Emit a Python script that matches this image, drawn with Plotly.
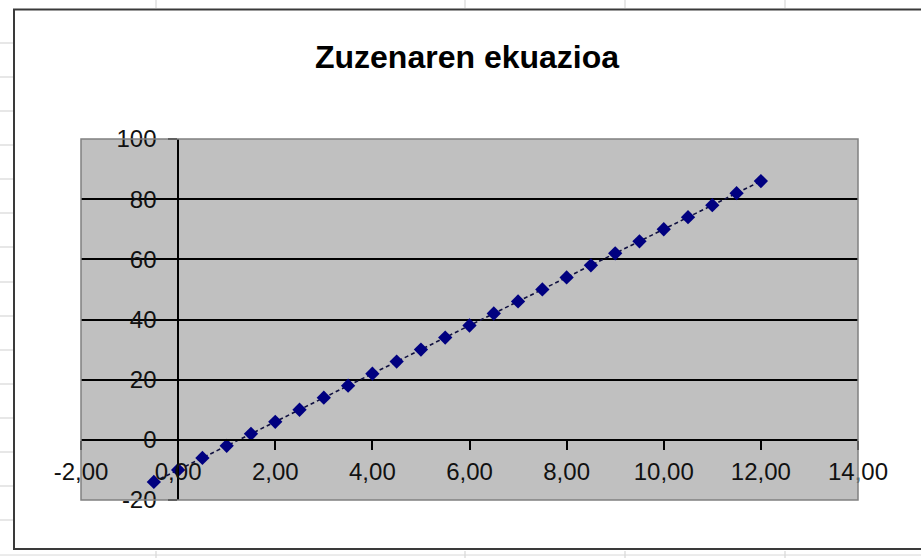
import plotly.graph_objects as go

# Data
x_values = [-0.5, 0.0, 0.5, 1.0, 1.5, 2.0, 2.5, 3.0, 3.5, 4.0, 4.5, 5.0, 5.5,
            6.0, 6.5, 7.0, 7.5, 8.0, 8.5, 9.0, 9.5, 10.0, 10.5, 11.0, 11.5, 12.0]
y_values = [-14, -10, -6, -2, 2, 6, 10, 14, 18, 22, 26, 30, 34,
            38, 42, 46, 50, 54, 58, 62, 66, 70, 74, 78, 82, 86]
x_tick_values = [-2, 0, 2, 4, 6, 8, 10, 12, 14]
x_tick_labels = ["-2,00", "0,00", "2,00", "4,00", "6,00", "8,00", "10,00", "12,00", "14,00"]
y_tick_values = [-20, 0, 20, 40, 60, 80, 100]
y_tick_labels = ["-20", "0", "20", "40", "60", "80", "100"]
title_text = "Zuzenaren ekuazioa"

W, H = 921, 558
ML, MR, MT, MB = 81, 63, 139, 58
PW, PH = W - ML - MR, H - MT - MB


def px(xp):
    return (xp - ML) / PW


def py(yp):
    return (H - MB - yp) / PH


FONT = "Arial, 'Liberation Sans', sans-serif"

fig = go.Figure()
fig.add_trace(go.Scatter(
    x=x_values, y=y_values, mode="lines+markers",
    line=dict(color="#101040", width=1.6, dash="4px,3px"),
    marker=dict(symbol="diamond", size=11, color="#000080", line=dict(width=0)),
    showlegend=False, hoverinfo="x+y",
))

shapes = []
# spreadsheet cell lines around the chart object
for yy in [43, 77, 111, 145, 179, 213, 247, 282, 316, 350, 384, 418, 452, 486, 520]:
    shapes.append(dict(type="line", xref="paper", yref="paper",
                       x0=px(0), x1=px(13), y0=py(yy), y1=py(yy),
                       line=dict(color="#cfcfcf", width=1)))
for xx in [156, 465, 625, 785]:
    shapes.append(dict(type="line", xref="paper", yref="paper",
                       x0=px(xx), x1=px(xx), y0=py(0), y1=py(8),
                       line=dict(color="#cfcfcf", width=1)))
    shapes.append(dict(type="line", xref="paper", yref="paper",
                       x0=px(xx), x1=px(xx), y0=py(551), y1=py(558),
                       line=dict(color="#cfcfcf", width=1)))
shapes.append(dict(type="line", xref="paper", yref="paper",
                   x0=px(0), x1=px(921), y0=py(555), y1=py(555),
                   line=dict(color="#d8d8d8", width=1)))
# chart area border
shapes.append(dict(type="rect", xref="paper", yref="paper",
                   x0=px(14), x1=px(930), y0=py(9.5), y1=py(549),
                   line=dict(color="#3a3a3a", width=2)))
# plot area border
shapes.append(dict(type="rect", xref="x domain", yref="y domain",
                   x0=0, x1=1, y0=0, y1=1, layer="above",
                   line=dict(color="#808080", width=1.5)))

fig.update_layout(
    width=W, height=H,
    margin=dict(l=ML, r=MR, t=MT, b=MB),
    paper_bgcolor="white",
    plot_bgcolor="#c0c0c0",
    font=dict(family=FONT, color="black"),
    title=dict(text="<b>" + title_text + "</b>", xref="container", yref="container",
               x=467 / W, y=1 - 57 / H, xanchor="center", yanchor="middle",
               font=dict(family=FONT, size=32, color="black")),
    shapes=shapes,
)

fig.update_xaxes(
    range=[-2, 14], tickmode="array", tickvals=x_tick_values, ticktext=x_tick_labels,
    showgrid=False, zeroline=False,
    showline=True, linecolor="black", linewidth=1.5,
    anchor="free", position=1 / 6,
    ticks="outside", ticklen=9, tickwidth=1.5, tickcolor="black",
    ticklabelstandoff=2,
    tickfont=dict(family=FONT, size=24, color="#111"),
)
fig.update_yaxes(
    range=[-20, 100], tickmode="array", tickvals=y_tick_values, ticktext=y_tick_labels,
    showgrid=True, gridcolor="black", gridwidth=1.5, zeroline=False,
    showline=True, linecolor="black", linewidth=1.5,
    anchor="free", position=2 / 16,
    ticks="outside", ticklen=9, tickwidth=1.5, tickcolor="black",
    ticklabelstandoff=7,
    tickfont=dict(family=FONT, size=24, color="#111"),
)

fig.write_html("out.html", config={"displayModeBar": False},
               post_script="document.body.style.margin='0';")
